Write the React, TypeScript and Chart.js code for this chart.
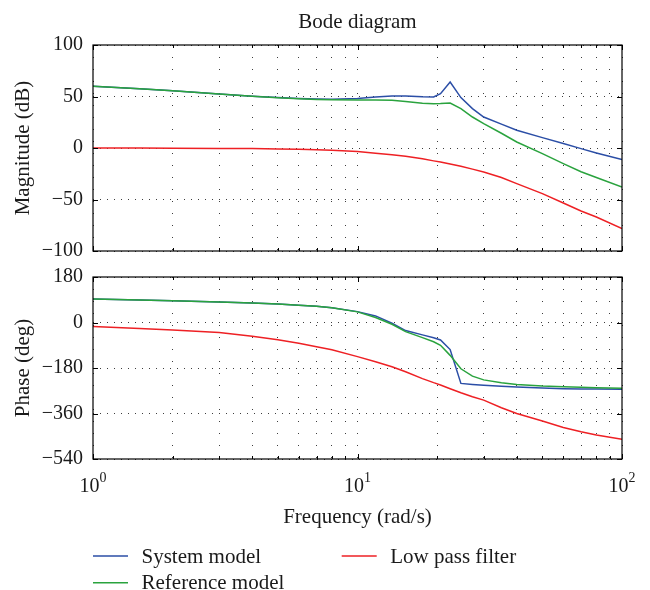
import React, { useEffect, useRef } from "react";
import { Chart, registerables } from "chart.js";
Chart.register(...registerables);

// ---------- data ----------
const FREQ = [1, 1.5, 2, 3, 4, 5, 6, 7, 8, 10, 11.7, 13.5, 15.2, 17.6, 19.4, 20.6, 22.4, 24.6, 27.2, 30, 35, 40, 50, 60, 70, 80, 100];

const MAG_SYSTEM = [60, 57.5, 55.5, 52.5, 50.3, 49, 48, 47.5, 47.3, 48, 49.5, 50.5, 50.5, 49.8, 49.6, 52.8, 64, 48.9, 38.2, 30.1, 23.2, 17.2, 10.1, 4.3, -0.6, -4.8, -11.3];
const MAG_REFERENCE = [60, 57.5, 55.5, 52.5, 50.2, 48.8, 47.8, 47.2, 46.8, 46.6, 46.6, 46.3, 45.2, 43.5, 43, 43.1, 43.7, 38.2, 30.1, 23.7, 14.3, 5.8, -5.4, -15.1, -23, -28.7, -37.9];
const MAG_LOWPASS = [0, -0.1, -0.2, -0.4, -0.6, -0.9, -1.3, -1.8, -2.3, -3.5, -5, -6.5, -8, -10.5, -12.5, -13.6, -15.5, -17.8, -20.5, -23.3, -28.7, -34.6, -44.3, -53.4, -61.2, -67, -78.3];

const PHASE_SYSTEM = [93, 89, 86, 81, 77, 73, 68, 64, 58, 43, 26, -3, -32, -49, -60, -69, -107, -241, -245, -248, -252, -255, -259, -262, -263, -263.5, -264];
const PHASE_REFERENCE = [93, 89, 86, 81, 77, 73, 68, 64, 58, 42, 20, -7, -36, -60, -76, -90, -130, -183, -212, -227, -238, -245, -251, -254, -256, -258, -260];
const PHASE_LOWPASS = [-16, -24, -30, -40, -54, -68, -82, -96, -108, -135, -155, -175, -195, -222, -238, -247, -262, -278, -294, -307, -337, -360, -390, -415, -432, -445, -462];

const X_GRID_TICKS = [1, 2, 3, 4, 5, 6, 7, 8, 9, 10, 20, 30, 40, 50, 60, 70, 80, 90, 100];
const X_LABEL_TICKS = [1, 10, 100];
const MAG_TICKS = [-100, -50, 0, 50, 100];
const PHASE_TICKS = [-540, -360, -180, 0, 180];

const SERIES_LABELS = ["System model", "Reference model", "Low pass filter"];
const TITLE = "Bode diagram";
const MAG_TITLE = "Magnitude (dB)";
const PHASE_TITLE = "Phase (deg)";
const X_TITLE = "Frequency (rad/s)";

// ---------- style ----------
const FONT = "'Liberation Serif', 'DejaVu Serif', serif";
const BLUE = "#2b4ea6";
const GREEN = "#2aa33e";
const RED = "#ee2024";
const GRID = "rgba(40,40,40,0.9)";
const TEXT = "#1a1a1a";

const mkLine = (label: string, color: string, ys: number[], order: number) => ({
  label,
  data: FREQ.map((f, i) => ({ x: f, y: ys[i] })),
  borderColor: color,
  backgroundColor: color,
  borderWidth: 1.5,
  pointRadius: 0,
  tension: 0,
  fill: false,
  order,
});

const fmt = (v: number) => String(v).replace("-", "\u2212");

const framePlugin = {
  id: "frame",
  afterDatasetsDraw(chart: any) {
    const { ctx, chartArea: a, scales } = chart;
    ctx.save();
    ctx.strokeStyle = "#000";
    ctx.lineWidth = 1.2;
    ctx.strokeRect(a.left, a.top, a.right - a.left, a.bottom - a.top);
    ctx.lineWidth = 1;
    ctx.beginPath();
    X_GRID_TICKS.forEach((v) => {
      const px = Math.round(scales.x.getPixelForValue(v)) + 0.5;
      const major = X_LABEL_TICKS.includes(v);
      const len = major ? 5 : 3;
      ctx.moveTo(px, a.top);
      ctx.lineTo(px, a.top + len);
      ctx.moveTo(px, a.bottom);
      ctx.lineTo(px, a.bottom - len);
    });
    scales.y.ticks.forEach((t: any) => {
      const py = Math.round(scales.y.getPixelForValue(t.value)) + 0.5;
      ctx.moveTo(a.left, py);
      ctx.lineTo(a.left + 5, py);
      ctx.moveTo(a.right, py);
      ctx.lineTo(a.right - 5, py);
    });
    ctx.stroke();
    ctx.restore();
  },
};

const yTitlePlugin = (text: string) => ({
  id: "ytitle",
  afterDraw(chart: any) {
    const { ctx, chartArea: a } = chart;
    ctx.save();
    ctx.fillStyle = TEXT;
    ctx.font = `21px ${FONT}`;
    ctx.translate(29, (a.top + a.bottom) / 2);
    ctx.rotate(-Math.PI / 2);
    ctx.textAlign = "center";
    ctx.textBaseline = "alphabetic";
    ctx.fillText(text, 0, 0);
    ctx.restore();
  },
});

const topTextPlugin = {
  id: "toptext",
  afterDraw(chart: any) {
    const { ctx, chartArea: a } = chart;
    ctx.save();
    ctx.fillStyle = TEXT;
    ctx.font = `21px ${FONT}`;
    ctx.textAlign = "center";
    ctx.textBaseline = "alphabetic";
    ctx.fillText(TITLE, (a.left + a.right) / 2, 28);
    ctx.restore();
  },
};

const bottomTextPlugin = {
  id: "bottomtext",
  afterDraw(chart: any) {
    const { ctx, chartArea: a, scales } = chart;
    ctx.save();
    ctx.fillStyle = TEXT;
    ctx.textBaseline = "alphabetic";
    // x tick labels 10^n
    X_LABEL_TICKS.forEach((v) => {
      const px = scales.x.getPixelForValue(v);
      const exp = String(Math.round(Math.log10(v)));
      ctx.font = `20px ${FONT}`;
      const wb = ctx.measureText("10").width;
      ctx.font = `14px ${FONT}`;
      const we = ctx.measureText(exp).width;
      const start = px - (wb + we) / 2;
      ctx.textAlign = "left";
      ctx.font = `20px ${FONT}`;
      ctx.fillText("10", start, a.bottom + 32.5);
      ctx.font = `14px ${FONT}`;
      ctx.fillText(exp, start + wb, a.bottom + 23);
    });
    // x title
    ctx.font = `21px ${FONT}`;
    ctx.textAlign = "center";
    ctx.fillText(X_TITLE, (a.left + a.right) / 2, a.bottom + 64);
    // legend
    const items = [
      { i: 0, x: 93, y: a.bottom + 97 },
      { i: 1, x: 93, y: a.bottom + 123.7 },
      { i: 2, x: 341.7, y: a.bottom + 97 },
    ];
    items.forEach(({ i, x, y }) => {
      const ds = chart.data.datasets[i];
      ctx.strokeStyle = ds.borderColor;
      ctx.lineWidth = 1.5;
      ctx.beginPath();
      ctx.moveTo(x, y);
      ctx.lineTo(x + 35, y);
      ctx.stroke();
      ctx.fillStyle = TEXT;
      ctx.textAlign = "left";
      ctx.font = `21px ${FONT}`;
      ctx.fillText(ds.label, x + 48.5, y + 6.5);
    });
    ctx.restore();
  },
};

const xScale = () => ({
  type: "logarithmic" as const,
  min: 1,
  max: 100,
  afterBuildTicks: (s: any) => {
    s.ticks = X_GRID_TICKS.map((v) => ({ value: v }));
  },
  ticks: { display: false, autoSkip: false },
  grid: { color: GRID, lineWidth: 1, drawTicks: false },
  border: { display: false, dash: [1, 11] },
  afterFit: (s: any) => {
    s.height = 0;
    s.paddingLeft = 0;
    s.paddingRight = 0;
    s.paddingTop = 0;
    s.paddingBottom = 0;
  },
});

const yScale = (min: number, max: number, ticks: number[]) => ({
  min,
  max,
  afterBuildTicks: (s: any) => {
    s.ticks = ticks.map((v) => ({ value: v }));
  },
  ticks: {
    font: { family: FONT, size: 20 },
    color: TEXT,
    padding: 10,
    autoSkip: false,
    callback: (v: any) => fmt(Number(v)),
  },
  grid: { color: GRID, lineWidth: 1, drawTicks: false },
  border: { display: false, dash: [1, 6] },
  afterFit: (s: any) => {
    s.width = 93;
    s.paddingTop = 0;
    s.paddingBottom = 0;
    s.paddingLeft = 0;
    s.paddingRight = 0;
  },
});

export default function App() {
  const topRef = useRef<HTMLCanvasElement>(null);
  const botRef = useRef<HTMLCanvasElement>(null);

  useEffect(() => {
    const top = new Chart(topRef.current as HTMLCanvasElement, {
      type: "line",
      data: {
        datasets: [
          mkLine(SERIES_LABELS[0], BLUE, MAG_SYSTEM, 2),
          mkLine(SERIES_LABELS[1], GREEN, MAG_REFERENCE, 1),
          mkLine(SERIES_LABELS[2], RED, MAG_LOWPASS, 0),
        ],
      },
      options: {
        responsive: false,
        animation: false,
        layout: { padding: { left: 0, right: 28, top: 45, bottom: 11 } },
        plugins: { legend: { display: false }, tooltip: { enabled: false }, title: { display: false } },
        scales: { x: xScale(), y: yScale(-100, 100, MAG_TICKS) } as any,
      },
      plugins: [framePlugin, yTitlePlugin(MAG_TITLE), topTextPlugin],
    });
    const bot = new Chart(botRef.current as HTMLCanvasElement, {
      type: "line",
      data: {
        datasets: [
          mkLine(SERIES_LABELS[0], BLUE, PHASE_SYSTEM, 2),
          mkLine(SERIES_LABELS[1], GREEN, PHASE_REFERENCE, 1),
          mkLine(SERIES_LABELS[2], RED, PHASE_LOWPASS, 0),
        ],
      },
      options: {
        responsive: false,
        animation: false,
        layout: { padding: { left: 0, right: 28, top: 15, bottom: 131 } },
        plugins: { legend: { display: false }, tooltip: { enabled: false }, title: { display: false } },
        scales: { x: xScale(), y: yScale(-540, 180, PHASE_TICKS) } as any,
      },
      plugins: [framePlugin, yTitlePlugin(PHASE_TITLE), bottomTextPlugin],
    });
    return () => {
      top.destroy();
      bot.destroy();
    };
  }, []);

  return (
    <div style={{ position: "absolute", left: 0, top: 0, width: 650, height: 590, background: "#fff" }}>
      <canvas ref={topRef} width={650} height={262} style={{ position: "absolute", left: 0, top: 0 }} />
      <canvas ref={botRef} width={650} height={328} style={{ position: "absolute", left: 0, top: 262 }} />
    </div>
  );
}
